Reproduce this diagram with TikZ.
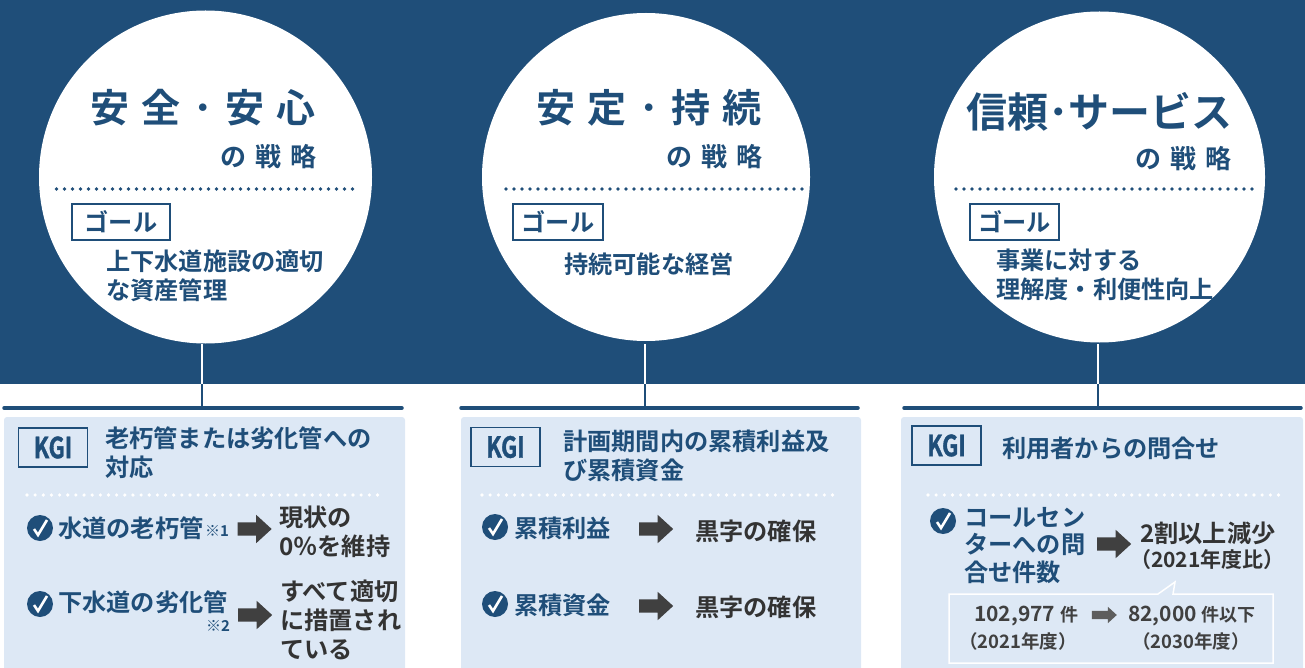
\documentclass[tikz,border=0pt]{standalone}
\usepackage{fontspec}
\usepackage{tikz}
\usetikzlibrary{shapes.arrows}
\setmainfont{Noto Sans CJK JP}[BoldFont={Noto Sans CJK JP Bold}]
\newfontfamily\kgifont{Noto Sans CJK JP}[BoldFont={Noto Sans CJK JP Bold}, BoldFeatures={FakeStretch=0.78, FakeBold=1.2}]

\definecolor{navy}{HTML}{1F4E79}
\definecolor{panel}{HTML}{DDE8F5}
\definecolor{ink}{HTML}{333333}
\definecolor{arrowgray}{HTML}{404040}

\newcommand{\px}[2]{\fontsize{#1}{#2}\selectfont\bfseries}

\tikzset{
  goal circle/.style={circle, fill=white, inner sep=0, minimum size=#1},
  goal box/.style={draw=navy, line width=1.5, fill=white, inner sep=0, minimum height=36, text=navy, font=\px{24.2}{29}},
  kgi box/.style={draw=navy, line width=1.5, inner sep=0, minimum width=69, minimum height=39, text=navy, font=\kgifont\px{29}{30}},
  navy text/.style={anchor=west, align=left, inner sep=0, text=navy, font=\px{24.2}{29}},
  ink text/.style={anchor=west, align=left, inner sep=0, text=ink, font=\px{24.2}{29}},
  gray text/.style={anchor=west, align=left, inner sep=0, text=arrowgray},
  check dot/.style={circle, fill=navy, inner sep=0, minimum size=26},
  check tick/.style={white, line width=2.6},
  fat arrow/.style={single arrow, fill=arrowgray, inner sep=0, inner ysep=6.5, minimum height=34, single arrow head extend=7.5, single arrow tip angle=85},
  small arrow/.style={single arrow, fill=arrowgray!85!white, inner sep=0, inner ysep=4, minimum height=25, single arrow head extend=4, single arrow tip angle=85},
  dark dots/.style={line width=3.6, line cap=round, dash pattern=on 0pt off 8pt, color=navy},
  white dots/.style={line width=3.6, line cap=round, dash pattern=on 0pt off 8.15pt, color=white},
}

\begin{document}
\begin{tikzpicture}[x=1pt, y=-1pt]
\useasboundingbox (0,0) rectangle (1305,668);

\fill[navy] (0,0) rectangle (1305,384);

\coordinate (stem a) at (202,344);
\coordinate (stem b) at (645,344);
\coordinate (stem c) at (1098,344);
\coordinate (band a) at (202,384);
\coordinate (band b) at (645,384);
\coordinate (band c) at (1098,384);
\coordinate (rule a) at (202,408);
\coordinate (rule b) at (645,408);
\coordinate (rule c) at (1098,408);

\draw[white, line width=2] (stem a) -- (band a);
\draw[white, line width=2] (stem b) -- (band b);
\draw[white, line width=2] (stem c) -- (band c);
\draw[navy, line width=2] (band a) -- (rule a);
\draw[navy, line width=2] (band b) -- (rule b);
\draw[navy, line width=2] (band c) -- (rule c);

\draw[navy, line width=3.5, line cap=round] (4,408) -- (402,408);
\draw[navy, line width=3.5, line cap=round] (461,408) -- (858,408);
\draw[navy, line width=3.5, line cap=round] (904,408) -- (1301,408);

\fill[panel, rounded corners=3] (4,417) rectangle (405,680);
\fill[panel, rounded corners=3] (461,417) rectangle (861,680);
\fill[panel, rounded corners=3] (901,417) rectangle (1303,680);

\node[goal circle=333] (circle a) at (205.5,177) {};
\node[goal circle=328] (circle b) at (646,177) {};
\node[goal circle=331] (circle c) at (1099.5,177) {};

\node[navy text, font=\px{39}{44}\addfontfeature{LetterSpace=32}] (title a) at (90,108) {安全･安心};
\node[navy text, font=\px{39}{44}\addfontfeature{LetterSpace=32}] (title b) at (536,108) {安定･持続};
\node[navy text, font=\px{41}{44}] (title c) at (966,112) {信頼･サービス};
\node[navy text, font=\px{26}{30}\addfontfeature{LetterSpace=35}] (strategy a) at (220,157) {の戦略};
\node[navy text, font=\px{26}{30}\addfontfeature{LetterSpace=35}] (strategy b) at (666,157) {の戦略};
\node[navy text, font=\px{26}{30}\addfontfeature{LetterSpace=35}] (strategy c) at (1135,159) {の戦略};

\draw[dark dots] (56.5,189) -- (353,189);
\draw[dark dots] (506,189) -- (803.5,189);
\draw[dark dots] (956,189) -- (1253.5,189);

\node[goal box, minimum width=98] (goal a) at (121,222) {ゴール};
\node[goal box, minimum width=90] (goal b) at (558,222) {ゴール};
\node[goal box, minimum width=89] (goal c) at (1014.5,222) {ゴール};

\node[navy text] (goal text a) at (106,275.5) {上下水道施設の適切\\な資産管理};
\node[navy text] (goal text b) at (564,264) {持続可能な経営};
\node[navy text] (goal text c) at (996,274.5) {事業に対する\\理解度・利便性向上};

\node[kgi box] (kgi a) at (53,447.5) {KGI};
\node[kgi box] (kgi b) at (505.5,447) {KGI};
\node[kgi box] (kgi c) at (946.5,445.5) {KGI};

\node[navy text] (head a) at (105,452.5) {老朽管または劣化管への\\対応};
\node[navy text] (head b) at (563,456) {計画期間内の累積利益及\\び累積資金};
\node[navy text] (head c) at (1002,448) {利用者からの問合せ};

\draw[white dots] (27,495) -- (380,495);
\draw[white dots] (482,495) -- (836,495);
\draw[white dots] (928,495) -- (1282,495);

\node[check dot] (check a) at (40,528) {};
\draw[check tick] ([shift={(-6,1)}]check a.center) -- ([shift={(-2,7)}]check a.center) -- ([shift={(7,-8)}]check a.center);
\node[check dot] (check b) at (40,604) {};
\draw[check tick] ([shift={(-6,1)}]check b.center) -- ([shift={(-2,7)}]check b.center) -- ([shift={(7,-8)}]check b.center);
\node[check dot] (check c) at (495,527) {};
\draw[check tick] ([shift={(-6,1)}]check c.center) -- ([shift={(-2,7)}]check c.center) -- ([shift={(7,-8)}]check c.center);
\node[check dot] (check d) at (495,604) {};
\draw[check tick] ([shift={(-6,1)}]check d.center) -- ([shift={(-2,7)}]check d.center) -- ([shift={(7,-8)}]check d.center);
\node[check dot] (check e) at (943,521) {};
\draw[check tick] ([shift={(-6,1)}]check e.center) -- ([shift={(-2,7)}]check e.center) -- ([shift={(7,-8)}]check e.center);

\node[navy text] (pipe a) at (58,528) {水道の老朽管};
\node[navy text, font=\px{15}{17}] (note a) at (205,531) {※1};
\node[navy text] (pipe b) at (58,602) {下水道の劣化管};
\node[navy text, font=\px{15}{17}] (note b) at (206,626) {※2};
\node[navy text] (profit) at (514,528) {累積利益};
\node[navy text] (funds) at (514,605) {累積資金};
\node[navy text, font=\px{24.2}{27.5}] (calls) at (964,545.5) {コールセン\\ターへの問\\合せ件数};

\node[fat arrow] (arrow a) at (251,529) {};
\node[fat arrow] (arrow b) at (251.5,615) {};
\node[fat arrow] (arrow c) at (652.5,529) {};
\node[fat arrow] (arrow d) at (652.5,606) {};
\node[fat arrow] (arrow e) at (1110.5,544) {};

\node[ink text] (result a) at (279,532) {現状の\\0％を維持};
\node[ink text] (result b) at (280,620) {すべて適切\\に措置され\\ている};
\node[ink text] (result c) at (695,531) {黒字の確保};
\node[ink text] (result d) at (695,607) {黒字の確保};
\node[ink text] (result e) at (1140,533) {2割以上減少};
\node[ink text, font=\px{21}{24}] (result f) at (1130,560) {（2021年度比）};

\draw[white, line width=1.5] (949,594) -- (1158,594) -- (1175,582) -- (1173,594) -- (1273,594) -- (1273,663) -- (949,663) -- cycle;

\node[gray text, font=\px{21}{24}] (count a) at (974,616) {102,977 \fontsize{18}{20}\selectfont 件};
\node[gray text, font=\px{18.5}{20}] (year a) at (959,641) {（2021年度）};
\node[gray text, font=\px{21}{24}] (count b) at (1128,616) {82,000 \fontsize{18}{20}\selectfont 件以下};
\node[gray text, font=\px{18.5}{20}] (year b) at (1132,641) {（2030年度）};
\node[small arrow] (arrow f) at (1102,615) {};
\end{tikzpicture}
\end{document}
